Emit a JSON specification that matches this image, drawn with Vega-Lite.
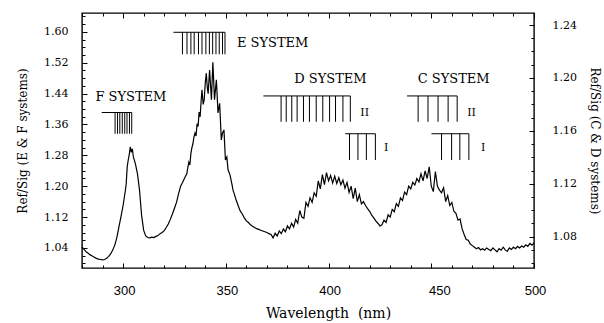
{
  "$schema": "https://vega.github.io/schema/vega-lite/v6.json",
  "autosize": "none",
  "width": 452,
  "height": 255,
  "padding": {"left": 82, "top": 13, "right": 70, "bottom": 55},
  "background": "white",
  "config": {
    "view": {"stroke": "black", "strokeWidth": 1.4},
    "axis": {"domain": false, "grid": false, "tickColor": "black", "labelColor": "black", "titleColor": "black", "labelFlush": false, "labelOverlap": false, "tickWidth": 1}
  },
  "datasets": {
    "curve": [
      {"w":280,"r":1.043},{"w":281,"r":1.036},{"w":282,"r":1.030},{"w":283,"r":1.026},{"w":284,"r":1.022},{"w":285,"r":1.019},{"w":286,"r":1.016},{"w":287,"r":1.013},{"w":288,"r":1.011},{"w":289,"r":1.010},
      {"w":290,"r":1.009},{"w":291,"r":1.010},{"w":292,"r":1.013},{"w":293,"r":1.018},{"w":294,"r":1.025},{"w":295,"r":1.035},{"w":296,"r":1.048},{"w":297,"r":1.068},{"w":298,"r":1.095},{"w":299,"r":1.122},
      {"w":300,"r":1.150},{"w":301,"r":1.185},{"w":301.5,"r":1.205},{"w":302,"r":1.250},{"w":302.5,"r":1.268},{"w":303,"r":1.282},{"w":303.5,"r":1.302},{"w":304,"r":1.288},{"w":304.5,"r":1.297},{"w":305,"r":1.276},
      {"w":306,"r":1.258},{"w":307,"r":1.232},{"w":308,"r":1.190},{"w":308.6,"r":1.150},{"w":309,"r":1.125},{"w":310,"r":1.086},{"w":311,"r":1.071},{"w":312,"r":1.067},{"w":313,"r":1.066},{"w":314,"r":1.068},
      {"w":315,"r":1.067},{"w":316,"r":1.070},{"w":317,"r":1.072},{"w":318,"r":1.077},{"w":319,"r":1.080},{"w":320,"r":1.085},{"w":321,"r":1.093},{"w":322,"r":1.102},{"w":323,"r":1.114},{"w":324,"r":1.128},
      {"w":325,"r":1.143},{"w":326,"r":1.158},{"w":327,"r":1.180},{"w":328,"r":1.200},{"w":329,"r":1.210},{"w":330,"r":1.222},{"w":331,"r":1.232},{"w":331.5,"r":1.248},{"w":332,"r":1.262},{"w":332.5,"r":1.255},
      {"w":333,"r":1.285},{"w":333.5,"r":1.300},{"w":334,"r":1.310},{"w":334.5,"r":1.328},{"w":335,"r":1.338},{"w":335.5,"r":1.330},{"w":336,"r":1.362},{"w":336.5,"r":1.355},{"w":337,"r":1.392},{"w":337.5,"r":1.380},
      {"w":338,"r":1.422},{"w":338.4,"r":1.450},{"w":339,"r":1.412},{"w":339.5,"r":1.425},{"w":340,"r":1.468},{"w":340.5,"r":1.493},{"w":341,"r":1.455},{"w":341.4,"r":1.440},{"w":342.1,"r":1.501},{"w":343,"r":1.424},
      {"w":343.7,"r":1.521},{"w":344.5,"r":1.424},{"w":345.4,"r":1.476},{"w":346.2,"r":1.390},{"w":347,"r":1.415},{"w":347.8,"r":1.320},{"w":348.4,"r":1.338},{"w":349.1,"r":1.346},{"w":349.8,"r":1.268},{"w":350.5,"r":1.276},
      {"w":351.1,"r":1.242},{"w":352,"r":1.230},{"w":353,"r":1.205},{"w":353.5,"r":1.190},{"w":354,"r":1.182},{"w":355,"r":1.165},{"w":356,"r":1.150},{"w":357,"r":1.136},{"w":358,"r":1.128},{"w":359,"r":1.118},
      {"w":360,"r":1.110},{"w":361,"r":1.106},{"w":362,"r":1.100},{"w":363,"r":1.096},{"w":364,"r":1.093},{"w":365,"r":1.090},{"w":366,"r":1.088},{"w":367,"r":1.086},{"w":368,"r":1.084},{"w":369,"r":1.082},
      {"w":370,"r":1.080},{"w":371,"r":1.077},{"w":372,"r":1.075},{"w":373,"r":1.066},{"w":374,"r":1.078},{"w":375,"r":1.071},{"w":376,"r":1.084},{"w":377,"r":1.077},{"w":378,"r":1.089},{"w":379,"r":1.082},
      {"w":380,"r":1.097},{"w":381,"r":1.089},{"w":382,"r":1.104},{"w":383,"r":1.094},{"w":384,"r":1.114},{"w":385,"r":1.104},{"w":386,"r":1.137},{"w":387,"r":1.120},{"w":388,"r":1.117},{"w":389,"r":1.158},
      {"w":390,"r":1.148},{"w":391,"r":1.170},{"w":392,"r":1.158},{"w":393,"r":1.183},{"w":394,"r":1.174},{"w":395,"r":1.214},{"w":396,"r":1.193},{"w":397,"r":1.230},{"w":398,"r":1.204},{"w":399,"r":1.235},
      {"w":400,"r":1.214},{"w":401,"r":1.228},{"w":402,"r":1.208},{"w":403,"r":1.226},{"w":404,"r":1.207},{"w":405,"r":1.222},{"w":406,"r":1.204},{"w":407,"r":1.216},{"w":408,"r":1.195},{"w":409,"r":1.210},
      {"w":410,"r":1.184},{"w":411,"r":1.200},{"w":412,"r":1.168},{"w":413,"r":1.195},{"w":414,"r":1.160},{"w":415,"r":1.178},{"w":416,"r":1.154},{"w":417,"r":1.160},{"w":418,"r":1.150},{"w":419,"r":1.142},
      {"w":420,"r":1.135},{"w":421,"r":1.125},{"w":422,"r":1.118},{"w":423,"r":1.110},{"w":424,"r":1.104},{"w":425,"r":1.097},{"w":426,"r":1.100},{"w":427,"r":1.112},{"w":428,"r":1.106},{"w":429,"r":1.126},
      {"w":430,"r":1.120},{"w":431,"r":1.140},{"w":432,"r":1.134},{"w":433,"r":1.155},{"w":434,"r":1.148},{"w":435,"r":1.170},{"w":436,"r":1.163},{"w":437,"r":1.185},{"w":438,"r":1.178},{"w":439,"r":1.200},
      {"w":440,"r":1.193},{"w":441,"r":1.210},{"w":442,"r":1.203},{"w":443,"r":1.220},{"w":444,"r":1.211},{"w":445,"r":1.232},{"w":446,"r":1.214},{"w":447,"r":1.240},{"w":448,"r":1.220},{"w":449,"r":1.250},
      {"w":450,"r":1.200},{"w":451,"r":1.186},{"w":452,"r":1.238},{"w":453,"r":1.200},{"w":454,"r":1.190},{"w":455,"r":1.183},{"w":456,"r":1.196},{"w":457,"r":1.160},{"w":458,"r":1.176},{"w":459,"r":1.150},
      {"w":460,"r":1.158},{"w":461,"r":1.135},{"w":462,"r":1.130},{"w":463,"r":1.112},{"w":464,"r":1.115},{"w":465,"r":1.090},{"w":466,"r":1.075},{"w":467,"r":1.062},{"w":468,"r":1.060},{"w":469,"r":1.050},
      {"w":470,"r":1.046},{"w":471,"r":1.042},{"w":472,"r":1.038},{"w":473,"r":1.041},{"w":474,"r":1.035},{"w":475,"r":1.038},{"w":476,"r":1.034},{"w":477,"r":1.040},{"w":478,"r":1.036},{"w":479,"r":1.033},
      {"w":480,"r":1.040},{"w":481,"r":1.035},{"w":482,"r":1.030},{"w":483,"r":1.038},{"w":484,"r":1.034},{"w":485,"r":1.042},{"w":486,"r":1.035},{"w":487,"r":1.031},{"w":488,"r":1.040},{"w":489,"r":1.036},
      {"w":490,"r":1.042},{"w":491,"r":1.038},{"w":492,"r":1.044},{"w":493,"r":1.040},{"w":494,"r":1.045},{"w":495,"r":1.042},{"w":496,"r":1.048},{"w":497,"r":1.044},{"w":498,"r":1.052},{"w":499,"r":1.047},
      {"w":500,"r":1.053}
    ],
    "hlines": [
      {"sys":"F","x1":289.6,"x2":304.2,"y":1.391},
      {"sys":"E","x1":324.5,"x2":349.6,"y":1.599},
      {"sys":"D II","x1":368.3,"x2":410.6,"y":1.434},
      {"sys":"D I","x1":408.1,"x2":422.8,"y":1.336},
      {"sys":"C II","x1":438.2,"x2":462.6,"y":1.434},
      {"sys":"C I","x1":450.1,"x2":468.3,"y":1.336}
    ],
    "vlines": [
      {"x":296.1,"y1":1.391,"y2":1.336},{"x":297.3,"y1":1.391,"y2":1.336},{"x":298.4,"y1":1.391,"y2":1.336},{"x":299.6,"y1":1.391,"y2":1.336},
      {"x":300.8,"y1":1.391,"y2":1.336},{"x":301.9,"y1":1.391,"y2":1.336},{"x":303.1,"y1":1.391,"y2":1.336},{"x":304.2,"y1":1.391,"y2":1.336},
      {"x":328.9,"y1":1.599,"y2":1.542},{"x":331.1,"y1":1.599,"y2":1.542},{"x":333.0,"y1":1.599,"y2":1.542},{"x":334.6,"y1":1.599,"y2":1.542},
      {"x":336.7,"y1":1.599,"y2":1.542},{"x":338.4,"y1":1.599,"y2":1.542},{"x":340.3,"y1":1.599,"y2":1.542},{"x":342.0,"y1":1.599,"y2":1.542},
      {"x":343.6,"y1":1.599,"y2":1.542},{"x":345.2,"y1":1.599,"y2":1.542},{"x":346.8,"y1":1.599,"y2":1.542},{"x":348.4,"y1":1.599,"y2":1.542},
      {"x":349.6,"y1":1.599,"y2":1.542},
      {"x":376.9,"y1":1.434,"y2":1.367},{"x":379.4,"y1":1.434,"y2":1.367},{"x":382.1,"y1":1.434,"y2":1.367},{"x":384.7,"y1":1.434,"y2":1.367},
      {"x":387.8,"y1":1.434,"y2":1.367},{"x":390.7,"y1":1.434,"y2":1.367},{"x":394.0,"y1":1.434,"y2":1.367},{"x":397.2,"y1":1.434,"y2":1.367},
      {"x":400.5,"y1":1.434,"y2":1.367},{"x":403.4,"y1":1.434,"y2":1.367},{"x":407.0,"y1":1.434,"y2":1.367},{"x":410.6,"y1":1.434,"y2":1.367},
      {"x":410.2,"y1":1.336,"y2":1.268},{"x":414.3,"y1":1.336,"y2":1.268},{"x":418.4,"y1":1.336,"y2":1.268},{"x":422.8,"y1":1.336,"y2":1.268},
      {"x":443.6,"y1":1.434,"y2":1.367},{"x":448.4,"y1":1.434,"y2":1.367},{"x":453.3,"y1":1.434,"y2":1.367},{"x":458.2,"y1":1.434,"y2":1.367},{"x":462.6,"y1":1.434,"y2":1.367},
      {"x":455.0,"y1":1.336,"y2":1.268},{"x":459.9,"y1":1.336,"y2":1.268},{"x":463.9,"y1":1.336,"y2":1.268},{"x":468.3,"y1":1.336,"y2":1.268}
    ],
    "labels": [
      {"t":"F SYSTEM","x":303.8,"y":1.431,"s":13},
      {"t":"E SYSTEM","x":372.8,"y":1.571,"s":13},
      {"t":"D SYSTEM","x":400.9,"y":1.477,"s":13},
      {"t":"C SYSTEM","x":460.9,"y":1.477,"s":13},
      {"t":"II","x":417.6,"y":1.391,"s":11},
      {"t":"I","x":428.1,"y":1.298,"s":11},
      {"t":"II","x":469.6,"y":1.391,"s":11},
      {"t":"I","x":475.3,"y":1.298,"s":11}
    ]
  },
  "resolve": {"scale": {"y": "independent"}, "axis": {"x": "independent", "y": "independent"}},
  "layer": [
    {
      "data": {"name": "curve"},
      "mark": {"type": "line", "color": "black", "strokeWidth": 1.2, "interpolate": "linear"},
      "encoding": {
        "x": {"field": "w", "type": "quantitative", "scale": {"domain": [280, 500], "nice": false, "zero": false},
          "axis": {"orient": "bottom", "values": [280,290,300,310,320,330,340,350,360,370,380,390,400,410,420,430,440,450,460,470,480,490,500],
            "tickSize": {"condition": {"test": "datum.value % 50 === 0", "value": -5}, "value": -3},
            "labelExpr": "datum.value % 50 === 0 ? datum.label : ''",
            "labelOffset": {"condition": {"test": "datum.value === 450", "value": 8}, "value": 1},
            "labelFont": "Liberation Sans", "labelFontSize": 13, "labelPadding": 21,
            "title": "Wavelength\u00a0 (nm)", "titleFont": "DejaVu Serif", "titleFontSize": 14, "titleFontWeight": "normal", "titlePadding": 7,
            "titleX": 246, "titleAlign": "center", "titleAnchor": null}},
        "y": {"field": "r", "type": "quantitative", "scale": {"domain": [0.988, 1.649], "nice": false, "zero": false},
          "axis": {"orient": "left", "values": [1.00,1.02,1.04,1.06,1.08,1.10,1.12,1.14,1.16,1.18,1.20,1.22,1.24,1.26,1.28,1.30,1.32,1.34,1.36,1.38,1.40,1.42,1.44,1.46,1.48,1.50,1.52,1.54,1.56,1.58,1.60,1.62,1.64],
            "tickSize": {"condition": {"test": "round(datum.value*100) % 8 === 0", "value": -5}, "value": -3},
            "labelExpr": "round(datum.value*100) % 8 === 0 ? format(datum.value, '.2f') : ''",
            "labelFont": "DejaVu Serif", "labelFontSize": 11, "labelPadding": 19,
            "title": "Ref/Sig (E & F systems)", "titleFont": "DejaVu Serif", "titleFontSize": 12, "titleFontWeight": "normal", "titlePadding": 14}}
      }
    },
    {
      "data": {"name": "hlines"},
      "mark": {"type": "rule", "color": "black", "strokeWidth": 1},
      "encoding": {
        "x": {"field": "x1", "type": "quantitative", "scale": {"domain": [280, 500], "nice": false, "zero": false},
          "axis": {"orient": "top", "values": [280,290,300,310,320,330,340,350,360,370,380,390,400,410,420,430,440,450,460,470,480,490,500],
            "tickSize": {"condition": {"test": "datum.value % 50 === 0", "value": -5}, "value": -3},
            "labels": false, "title": null}},
        "x2": {"field": "x2"},
        "y": {"field": "y", "type": "quantitative", "scale": {"domain": [0.988, 1.649], "nice": false, "zero": false}, "axis": null}
      }
    },
    {
      "data": {"name": "vlines"},
      "mark": {"type": "rule", "color": "black", "strokeWidth": 1},
      "encoding": {
        "x": {"field": "x", "type": "quantitative", "scale": {"domain": [280, 500], "nice": false, "zero": false}, "axis": null},
        "y": {"field": "y1", "type": "quantitative", "scale": {"domain": [0.988, 1.649], "nice": false, "zero": false}, "axis": null},
        "y2": {"field": "y2"}
      }
    },
    {
      "data": {"name": "labels"},
      "mark": {"type": "text", "font": "DejaVu Serif", "color": "black", "align": "center", "baseline": "middle"},
      "encoding": {
        "x": {"field": "x", "type": "quantitative", "scale": {"domain": [280, 500], "nice": false, "zero": false}, "axis": null},
        "y": {"field": "y", "type": "quantitative", "scale": {"domain": [0.988, 1.649], "nice": false, "zero": false}, "axis": null},
        "text": {"field": "t"},
        "size": {"field": "s", "type": "quantitative", "scale": null}
      }
    },
    {
      "data": {"values": [{"v": 1.08}, {"v": 1.24}]},
      "mark": {"type": "point", "opacity": 0},
      "encoding": {
        "y": {"field": "v", "type": "quantitative", "scale": {"domain": [1.0563, 1.2491], "nice": false, "zero": false},
          "axis": {"orient": "right", "values": [1.06,1.07,1.08,1.09,1.10,1.11,1.12,1.13,1.14,1.15,1.16,1.17,1.18,1.19,1.20,1.21,1.22,1.23,1.24],
            "tickSize": {"condition": {"test": "round(datum.value*100) % 4 === 0", "value": -5}, "value": -3},
            "labelExpr": "round(datum.value*100) % 4 === 0 ? format(datum.value, '.2f') : ''",
            "labelFont": "DejaVu Serif", "labelFontSize": 11, "labelPadding": 23,
            "title": "Ref/Sig (C & D systems)", "titleFont": "DejaVu Serif", "titleFontSize": 12, "titleFontWeight": "normal", "titlePadding": 11}}
      }
    }
  ]
}
